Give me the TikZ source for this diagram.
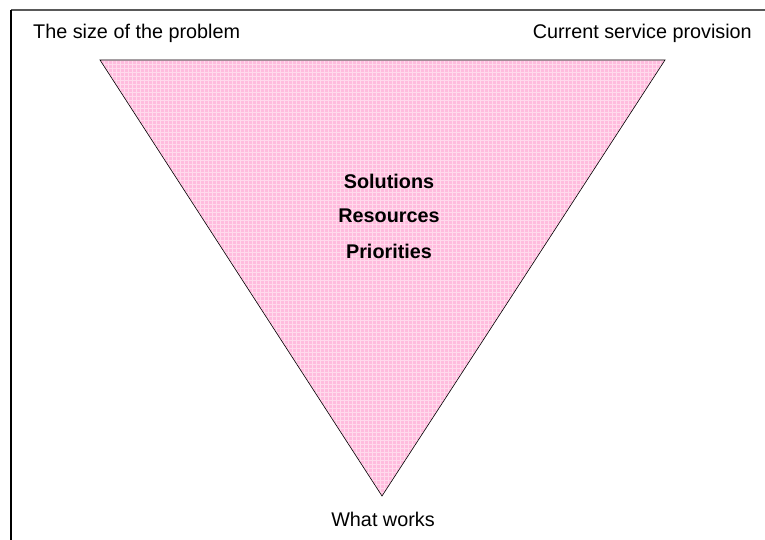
\documentclass[tikz,border=0pt]{standalone}
\usepackage{fontspec}
\setmainfont{Liberation Sans}
\definecolor{funnelpink}{RGB}{255,188,222}
\tikzset{
  lbl/.style={font=\fontsize{19.8}{23}\selectfont, inner sep=0pt},
  keyword/.style={font=\fontsize{19.8}{23}\selectfont\bfseries, inner sep=0pt}
}
\begin{document}
\begin{tikzpicture}[x=1pt,y=-1pt]%
\useasboundingbox (0,0) rectangle (765,540);%
% frame (top and left edges only)
\draw[line width=1.2pt,black!65] (11,10) -- (765,10);%
\draw[line width=1.2pt,black] (11,10) -- (11,540);%
% funnel
\coordinate (tl) at (100,60);%
\coordinate (tr) at (665,60);%
\coordinate (apex) at (382,496);%
\fill[funnelpink] (tl) -- (tr) -- (apex) -- cycle;%
\begin{scope}
\clip (tl) -- (tr) -- (apex) -- cycle;%
\draw[white,opacity=0.45,line width=0.9pt,step=4pt] (100,60) grid (666,497);%
\end{scope}
\draw[line width=0.6pt] (tl) -- (tr) -- (apex) -- cycle;%
% labels
\node[lbl,anchor=west] (size) at (33,33) {The size of the problem};%
\node[lbl,anchor=east] (current) at (752,33) {Current service provision};%
\node[lbl] (works) at (383,519) {What works};%
\node[keyword] (solutions) at (389,181) {Solutions};%
\node[keyword] (resources) at (389,216) {Resources};%
\node[keyword] (priorities) at (389,251) {Priorities};%
\end{tikzpicture}
\end{document}
